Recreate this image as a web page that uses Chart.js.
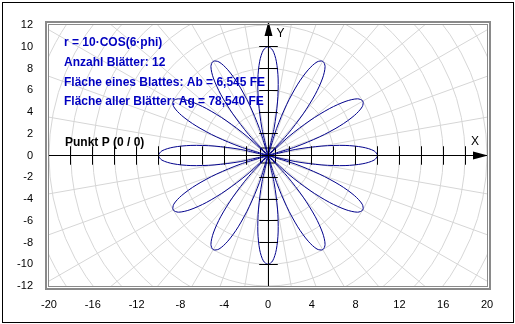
<!DOCTYPE html>
<html>
<head>
<meta charset="utf-8">
<script src="https://cdn.jsdelivr.net/npm/chart.js@4.4.0/dist/chart.umd.min.js"></script>
<style>
  body { margin: 0; background: #fff; }
  #wrap { width: 515px; height: 324px; }
</style>
</head>
<body>
<div id="wrap"><canvas id="myChart" width="515" height="324"></canvas></div>
<script>
// tick labels on the frame
const xTicks = [-20, -16, -12, -8, -4, 0, 4, 8, 12, 16, 20];
const yTicks = [-12, -10, -8, -6, -4, -2, 0, 2, 4, 6, 8, 10, 12];
// hatch marks along the axes
const xMarks = [-18, -16, -14, -12, -10, -8, -6, -4, -2, 2, 4, 6, 8, 10, 12, 14, 16, 18];
const yMarks = [-10, -8, -6, -4, -2, 2, 4, 6, 8, 10];
// polar grid
const gridRadii = [2, 4, 6, 8, 10, 12, 14, 16, 18, 20, 22, 24];
const gridAngles = [0, 10, 20, 30, 40, 50, 60, 70, 80, 90, 100, 110, 120, 130, 140, 150, 160, 170,
                    180, 190, 200, 210, 220, 230, 240, 250, 260, 270, 280, 290, 300, 310, 320, 330, 340, 350];
// rose: petal directions (deg) and the petal outline read as offset (deg) / radius
const petalDirections = [0, 30, 60, 90, 120, 150, 180, 210, 240, 270, 300, 330];
const petalOffsets = [-15, -12.5, -10, -7.5, -5, -2.5, 0, 2.5, 5, 7.5, 10, 12.5, 15];
const petalRadii = [0, 2.6, 5, 7.1, 8.7, 9.7, 10, 9.7, 8.7, 7.1, 5, 2.6, 0];
const pointP = [{x: 0, y: 0}];
// texts
const infoLines = ['r = 10\u00B7COS(6\u00B7phi)', 'Anzahl Bl\u00E4tter: 12',
                   'Fl\u00E4che eines Blattes: Ab = 6,545 FE', 'Fl\u00E4che aller Bl\u00E4tter: Ag = 78,540 FE'];
const pointLabel = 'Punkt P (0 / 0)';

const rosePoints = [];
petalDirections.forEach(function(dir, p) {
    petalOffsets.forEach(function(off, i) {
        if (p > 0 && i == 0) return;
        const a = (dir + off) * Math.PI / 180;
        rosePoints.push({x: petalRadii[i] * Math.cos(a), y: petalRadii[i] * Math.sin(a)});
    });
});

const FONT = '"Liberation Sans", Arial, sans-serif';
function crisp(v) { return Math.floor(v) + 0.5; }

const polarGrid = {
    id: 'polarGrid',
    beforeDatasetsDraw(chart) {
        const ctx = chart.ctx, a = chart.chartArea, x = chart.scales.x, y = chart.scales.y;
        const cx = x.getPixelForValue(0), cy = y.getPixelForValue(0);
        const sx = x.getPixelForValue(1) - cx, sy = cy - y.getPixelForValue(1);
        ctx.save();
        ctx.beginPath();
        ctx.rect(a.left, a.top, a.right - a.left, a.bottom - a.top);
        ctx.clip();
        ctx.strokeStyle = '#d6d6d6';
        ctx.lineWidth = 1;
        gridRadii.forEach(function(r) {
            ctx.beginPath();
            ctx.ellipse(cx, cy, r * sx, r * sy, 0, 0, 2 * Math.PI);
            ctx.stroke();
        });
        const rMax = gridRadii[gridRadii.length - 1];
        gridAngles.forEach(function(g) {
            const t = g * Math.PI / 180;
            ctx.beginPath();
            ctx.moveTo(cx, cy);
            ctx.lineTo(cx + rMax * sx * Math.cos(t), cy - rMax * sy * Math.sin(t));
            ctx.stroke();
        });
        ctx.restore();
    }
};

const axesAndText = {
    id: 'axesAndText',
    afterDatasetsDraw(chart) {
        const ctx = chart.ctx, a = chart.chartArea, x = chart.scales.x, y = chart.scales.y;
        const cx = crisp(x.getPixelForValue(0)), cy = crisp(y.getPixelForValue(0));
        const sx = x.getPixelForValue(1) - x.getPixelForValue(0);
        const sy = y.getPixelForValue(0) - y.getPixelForValue(1);
        ctx.save();
        ctx.strokeStyle = '#000';
        ctx.fillStyle = '#000';
        ctx.lineWidth = 1;
        // axis lines
        ctx.beginPath();
        ctx.moveTo(a.left, cy); ctx.lineTo(a.right, cy);
        ctx.moveTo(cx, a.bottom); ctx.lineTo(cx, a.top - 3);
        ctx.stroke();
        // hatch marks
        ctx.beginPath();
        xMarks.forEach(function(v) {
            const px = crisp(x.getPixelForValue(v));
            ctx.moveTo(px, cy - 0.85 * sy); ctx.lineTo(px, cy + 0.85 * sy);
        });
        yMarks.forEach(function(v) {
            const py = crisp(y.getPixelForValue(v));
            ctx.moveTo(cx - 0.85 * sx, py); ctx.lineTo(cx + 0.85 * sx, py);
        });
        ctx.stroke();
        // arrows
        ctx.beginPath();
        ctx.moveTo(a.right + 1, cy); ctx.lineTo(a.right - 14, cy - 4); ctx.lineTo(a.right - 14, cy + 4);
        ctx.closePath();
        ctx.moveTo(cx, a.top - 4); ctx.lineTo(cx - 4, a.top + 11); ctx.lineTo(cx + 4, a.top + 11);
        ctx.closePath();
        ctx.fill();
        // axis names
        ctx.font = '12px ' + FONT;
        ctx.textAlign = 'center';
        ctx.textBaseline = 'middle';
        ctx.fillText('X', a.right - 12, cy - 14);
        ctx.fillText('Y', cx + 12, a.top + 9);
        ctx.restore();
    },
    afterDraw(chart) {
        const ctx = chart.ctx, a = chart.chartArea;
        ctx.save();
        // frame round the plot
        ctx.strokeStyle = '#8a8a8a';
        ctx.lineWidth = 1;
        ctx.strokeRect(a.left - 0.5, a.top - 0.5, a.right - a.left + 1, a.bottom - a.top + 1);
        ctx.lineWidth = 2;
        ctx.strokeRect(a.left - 3, a.top - 3, a.right - a.left + 6, a.bottom - a.top + 6);
        // outer border
        ctx.strokeStyle = '#000';
        ctx.lineWidth = 1;
        ctx.strokeRect(2.5, 2.5, 511, 320);
        // texts
        ctx.textAlign = 'left';
        ctx.textBaseline = 'middle';
        ctx.font = 'bold 12px ' + FONT;
        ctx.fillStyle = '#0000c0';
        infoLines.forEach(function(t, i) {
            ctx.fillText(t, a.left + 15, a.top + 18 + i * 19.7);
        });
        ctx.fillStyle = '#000';
        ctx.fillText(pointLabel, a.left + 16, 143);
        ctx.restore();
    }
};

const myChart = new Chart(document.getElementById('myChart').getContext('2d'), {
    type: 'scatter',
    data: {
        datasets: [
            {
                label: 'r = 10 cos(6 phi)',
                data: rosePoints,
                showLine: true,
                borderColor: '#00008b',
                borderWidth: 1,
                pointRadius: 0,
                tension: 0.3,
                fill: false
            },
            {
                label: 'P',
                data: pointP,
                pointStyle: 'rect',
                pointRadius: 10.6,
                borderColor: '#000',
                backgroundColor: 'rgba(0,0,0,0)',
                borderWidth: 1
            }
        ]
    },
    options: {
        responsive: false,
        animation: false,
        layout: { padding: { top: 25, right: 28, left: 0, bottom: 0 } },
        plugins: {
            legend: { display: false },
            tooltip: { enabled: false }
        },
        scales: {
            x: {
                type: 'linear',
                min: -20,
                max: 20,
                grid: { display: false, drawTicks: false },
                border: { display: false },
                afterBuildTicks: function(s) { s.ticks = xTicks.map(v => ({value: v})); },
                afterFit: function(s) { s.height = 38; },
                ticks: { padding: 12, color: '#000', autoSkip: false, maxRotation: 0, font: { family: FONT, size: 11 } }
            },
            y: {
                type: 'linear',
                min: -12,
                max: 12,
                grid: { display: false, drawTicks: false },
                border: { display: false },
                afterBuildTicks: function(s) { s.ticks = yTicks.map(v => ({value: v})); },
                afterFit: function(s) { s.width = 49; },
                ticks: { padding: 16, color: '#000', autoSkip: false, font: { family: FONT, size: 11 } }
            }
        }
    },
    plugins: [polarGrid, axesAndText]
});
</script>
</body>
</html>
